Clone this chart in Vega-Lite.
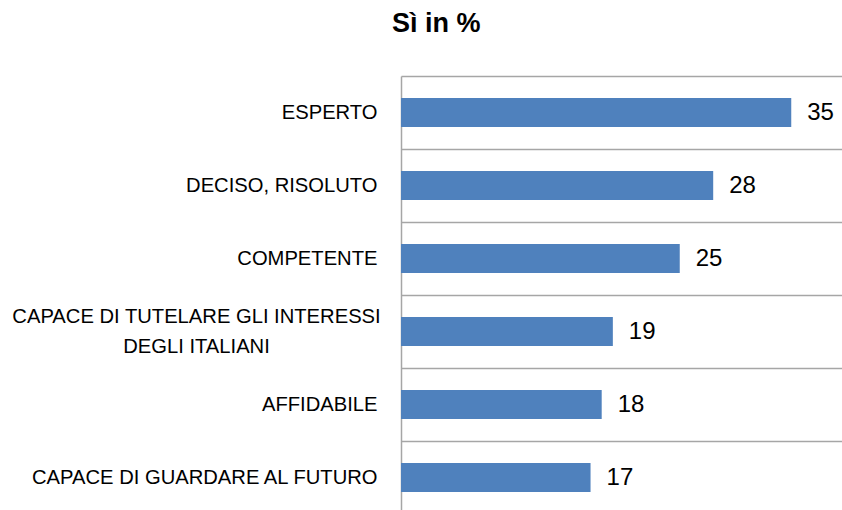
{
  "$schema": "https://vega.github.io/schema/vega-lite/v6.json",
  "autosize": {"type": "none"},
  "padding": {"left": 401, "top": 76, "right": 0, "bottom": 0},
  "width": 446,
  "height": 438,
  "background": "white",
  "title": {
    "text": "Sì in %",
    "anchor": "start",
    "frame": "group",
    "dx": -9,
    "dy": 14,
    "offset": 15,
    "baseline": "bottom",
    "font": "Liberation Sans",
    "fontSize": 27,
    "fontWeight": "bold",
    "color": "#000000"
  },
  "data": {
    "values": [
      {"label": "ESPERTO", "value": 35},
      {"label": "DECISO, RISOLUTO", "value": 28},
      {"label": "COMPETENTE", "value": 25},
      {"label": "CAPACE DI TUTELARE GLI INTERESSI|DEGLI ITALIANI", "value": 19},
      {"label": "AFFIDABILE", "value": 18},
      {"label": "CAPACE DI GUARDARE AL FUTURO", "value": 17}
    ]
  },
  "config": {"view": {"stroke": null}},
  "encoding": {
    "y": {
      "field": "label",
      "type": "nominal",
      "sort": null,
      "scale": {"paddingInner": 0, "paddingOuter": 0},
      "axis": {
        "title": null,
        "ticks": false,
        "grid": true,
        "tickBand": "extent",
        "gridColor": "#a6a6a6",
        "gridWidth": 1.5,
        "domainColor": "#a6a6a6",
        "domainWidth": 1.5,
        "labelFont": "Liberation Sans",
        "labelFontSize": 20.2,
        "labelColor": "#000000",
        "labelLimit": 500,
        "labelLineHeight": 30,
        "labelExpr": "split(datum.label, '|')",
        "labelAlign": {"condition": {"test": "indexof(datum.label, '|') >= 0", "value": "center"}, "value": "right"},
        "labelPadding": {"condition": {"test": "indexof(datum.label, '|') >= 0", "value": 205}, "value": 24},
        "labelOffset": {"condition": {"test": "indexof(datum.label, '|') >= 0", "value": -15}, "value": 0}
      }
    },
    "x": {
      "field": "value",
      "type": "quantitative",
      "scale": {"domain": [0, 40]},
      "axis": null
    }
  },
  "layer": [
    {"mark": {"type": "bar", "color": "#4f81bd", "height": {"band": 0.4}}},
    {
      "mark": {"type": "text", "align": "left", "baseline": "middle", "dx": 16, "font": "Liberation Sans", "fontSize": 24, "color": "#000000"},
      "encoding": {"text": {"field": "value", "type": "quantitative"}}
    }
  ]
}
